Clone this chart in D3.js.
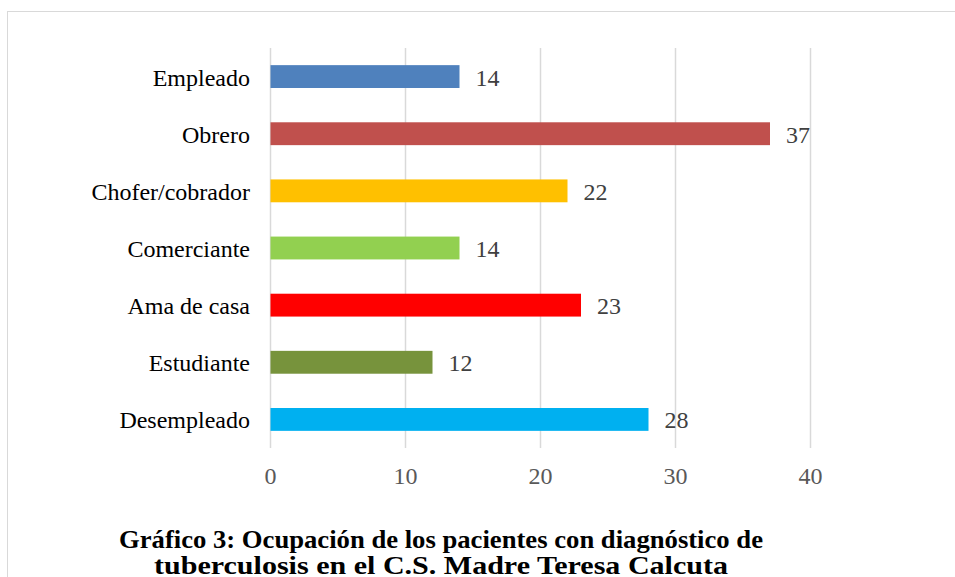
<!DOCTYPE html>
<html lang="es">
<head>
  <meta charset="UTF-8" />
  <title>Gráfico 3</title>
  <script src="https://d3js.org/d3.v7.min.js"></script>
  <style>
    body { margin: 0; background: #fff; }
    svg { display: block; font-family: 'Liberation Serif', 'Times New Roman', serif; }
  </style>
</head>
<body>
<svg width="955" height="577"></svg>
<script>
  // data
  const categories = ["Empleado", "Obrero", "Chofer/cobrador", "Comerciante", "Ama de casa", "Estudiante", "Desempleado"];
  const values = [14, 37, 22, 14, 23, 12, 28];
  const barColors = ["#4F81BD", "#C0504D", "#FFC000", "#92D050", "#FF0000", "#77933C", "#00B0F0"];
  const xTicks = [0, 10, 20, 30, 40];
  const titleLines = [
    "Gráfico 3: Ocupación de los pacientes con diagnóstico de",
    "tuberculosis en el C.S. Madre Teresa Calcuta"
  ];

  const svg = d3.select("svg");

  // outer chart border (runs past the right and bottom edge)
  svg.append("rect")
    .attr("x", 7.5).attr("y", 11.5)
    .attr("width", 1000).attr("height", 700)
    .attr("fill", "none")
    .attr("stroke", "#d9d9d9");

  const x = d3.scaleLinear().domain([0, 40]).range([270.5, 810.5]);
  const y = d3.scaleBand().domain(categories).range([48, 448]).paddingInner(0.6).paddingOuter(0.3);

  // gridlines
  svg.append("g")
    .selectAll("line")
    .data(xTicks)
    .enter().append("line")
    .attr("x1", d => x(d)).attr("x2", d => x(d))
    .attr("y1", 48).attr("y2", 448)
    .attr("stroke", "#d9d9d9")
    .attr("stroke-width", 1.5);

  // bars
  svg.append("g")
    .selectAll("rect")
    .data(categories)
    .enter().append("rect")
    .attr("x", x(0))
    .attr("y", d => y(d))
    .attr("width", (d, i) => x(values[i]) - x(0))
    .attr("height", y.bandwidth())
    .attr("fill", (d, i) => barColors[i]);

  // value labels
  svg.append("g")
    .selectAll("text")
    .data(categories)
    .enter().append("text")
    .attr("x", (d, i) => x(values[i]) + 16)
    .attr("y", d => y(d) + y.bandwidth() / 2 + 9)
    .attr("font-size", 24)
    .attr("fill", "#404040")
    .text((d, i) => values[i]);

  // category labels
  svg.append("g")
    .selectAll("text")
    .data(categories)
    .enter().append("text")
    .attr("x", 250)
    .attr("y", d => y(d) + y.bandwidth() / 2 + 9)
    .attr("text-anchor", "end")
    .attr("font-size", 24)
    .attr("fill", "#000")
    .text(d => d);

  // x tick labels
  svg.append("g")
    .selectAll("text")
    .data(xTicks)
    .enter().append("text")
    .attr("x", d => x(d))
    .attr("y", 484)
    .attr("text-anchor", "middle")
    .attr("font-size", 24)
    .attr("fill", "#595959")
    .text(d => d);

  // title, two centred lines squeezed to the widths seen in the picture
  const titleWidths = [644, 574];
  svg.append("g")
    .selectAll("text")
    .data(titleLines)
    .enter().append("text")
    .attr("x", 441)
    .attr("y", (d, i) => 548 + i * 26)
    .attr("text-anchor", "middle")
    .attr("font-size", 26)
    .attr("font-weight", "bold")
    .attr("fill", "#000")
    .attr("textLength", (d, i) => titleWidths[i])
    .attr("lengthAdjust", "spacingAndGlyphs")
    .text(d => d);
</script>
</body>
</html>
